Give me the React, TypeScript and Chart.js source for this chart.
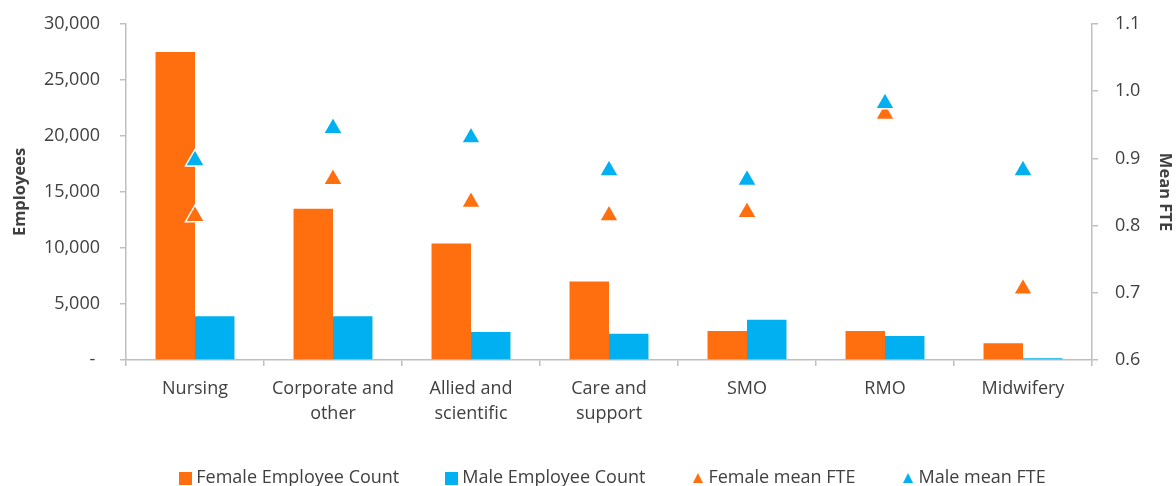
import React, { useEffect, useRef } from 'react';
import { Chart, registerables } from 'chart.js';

Chart.register(...registerables);

const categories: (string | string[])[] = [
  'Nursing',
  ['Corporate and', 'other'],
  ['Allied and', 'scientific'],
  ['Care and', 'support'],
  'SMO',
  'RMO',
  'Midwifery',
];

const femaleCount = [27500, 13500, 10400, 7000, 2600, 2600, 1500];
const maleCount = [3900, 3900, 2500, 2350, 3600, 2150, 150];
const femaleFTE = [0.814, 0.869, 0.835, 0.815, 0.82, 0.966, 0.706];
const maleFTE = [0.897, 0.945, 0.931, 0.882, 0.868, 0.982, 0.882];

const seriesNames = ['Female Employee Count', 'Male Employee Count', 'Female mean FTE', 'Male mean FTE'];

const ORANGE = '#FF6F10';
const BLUE = '#00B0F0';
const TEXT = '#404040';
const AXIS = '#BFBFBF';
const FONT = "'Open Sans', sans-serif";

function squareMarker(color: string, size: number): HTMLCanvasElement {
  const c = document.createElement('canvas');
  c.width = size;
  c.height = size;
  const ctx = c.getContext('2d')!;
  ctx.fillStyle = color;
  ctx.fillRect(0, 0, size, size);
  return c;
}

function triangleMarker(color: string, w: number, h: number): HTMLCanvasElement {
  const c = document.createElement('canvas');
  c.width = w;
  c.height = h;
  const ctx = c.getContext('2d')!;
  ctx.fillStyle = color;
  ctx.beginPath();
  ctx.moveTo(w / 2, 0);
  ctx.lineTo(w, h);
  ctx.lineTo(0, h);
  ctx.closePath();
  ctx.fill();
  return c;
}

// nudges the legend box so it sits where the reference legend sits
const legendShift = {
  id: 'legendShift',
  afterLayout(chart: any) {
    const l = chart.legend;
    if (l) {
      l.left += 6;
      l.right += 6;
      l.top -= 10;
      l.height += 10;
    }
  },
};

export default function App() {
  const ref = useRef<HTMLCanvasElement | null>(null);

  useEffect(() => {
    if (!ref.current) return;
    const markers = [
      squareMarker(ORANGE, 13),
      squareMarker(BLUE, 13),
      triangleMarker(ORANGE, 10, 10),
      triangleMarker(BLUE, 10, 10),
    ];
    const colors = [ORANGE, BLUE, ORANGE, BLUE];

    const chart = new Chart(ref.current, {
      type: 'bar',
      data: {
        labels: categories,
        datasets: [
          {
            type: 'bar',
            label: seriesNames[0],
            data: femaleCount,
            backgroundColor: ORANGE,
            yAxisID: 'y',
            order: 2,
            categoryPercentage: 0.572,
            barPercentage: 1,
          },
          {
            type: 'bar',
            label: seriesNames[1],
            data: maleCount,
            backgroundColor: BLUE,
            yAxisID: 'y',
            order: 3,
            categoryPercentage: 0.572,
            barPercentage: 1,
          },
          {
            type: 'line',
            label: seriesNames[2],
            data: femaleFTE,
            yAxisID: 'y1',
            showLine: false,
            pointStyle: 'triangle',
            pointRadius: 11,
            pointBackgroundColor: ORANGE,
            pointBorderColor: '#FFFFFF',
            pointBorderWidth: 1.5,
            backgroundColor: ORANGE,
            borderColor: ORANGE,
            order: 1,
          },
          {
            type: 'line',
            label: seriesNames[3],
            data: maleFTE,
            yAxisID: 'y1',
            showLine: false,
            pointStyle: 'triangle',
            pointRadius: 11,
            pointBackgroundColor: BLUE,
            pointBorderColor: '#FFFFFF',
            pointBorderWidth: 1.5,
            backgroundColor: BLUE,
            borderColor: BLUE,
            order: 0,
          },
        ],
      } as any,
      options: {
        responsive: false,
        animation: false,
        layout: { padding: { top: 24, left: 0, right: 0, bottom: 0 } },
        plugins: {
          tooltip: { enabled: false },
          legend: {
            position: 'bottom',
            fullSize: false,
            align: 'center',
            maxHeight: 58,
            labels: {
              usePointStyle: true,
              boxWidth: 3,
              boxHeight: 3,
              padding: 51,
              color: TEXT,
              font: { family: FONT, size: 18 },
              generateLabels: () =>
                seriesNames.map((name, i) => ({
                  text: name,
                  fillStyle: colors[i],
                  strokeStyle: colors[i],
                  lineWidth: 0,
                  pointStyle: markers[i] as any,
                  hidden: false,
                  datasetIndex: i,
                  fontColor: TEXT,
                })),
            },
          } as any,
        },
        scales: {
          x: {
            offset: true,
            grid: {
              display: true,
              offset: true,
              drawOnChartArea: false,
              drawTicks: true,
              tickLength: 6,
              color: AXIS,
              lineWidth: 1.5,
            },
            border: { display: true, color: AXIS, width: 1.5 },
            ticks: {
              color: TEXT,
              padding: 10,
              maxRotation: 0,
              autoSkip: false,
              font: { family: FONT, size: 18, lineHeight: 1.39 },
            },
            afterFit: (scale: any) => {
              scale.height = 68;
            },
          },
          y: {
            position: 'left',
            min: 0,
            max: 30000,
            grid: {
              display: true,
              drawOnChartArea: false,
              drawTicks: true,
              tickLength: 6,
              color: AXIS,
              lineWidth: 1.5,
            },
            border: { display: true, color: AXIS, width: 1.5 },
            ticks: {
              stepSize: 5000,
              color: TEXT,
              padding: 20,
              font: { family: FONT, size: 18 },
              callback: (v: any) => (Number(v) === 0 ? '- ' : Number(v).toLocaleString('en-US')),
            },
            title: {
              display: true,
              text: 'Employees',
              color: TEXT,
              font: { family: FONT, size: 16.5, weight: 'bold' },
              padding: { top: 10, bottom: 0 },
            },
            afterFit: (scale: any) => {
              scale.width = 126;
              scale.paddingTop = 10;
              scale.paddingBottom = 10;
            },
          },
          y1: {
            position: 'right',
            min: 0.6,
            max: 1.1,
            grid: {
              display: true,
              drawOnChartArea: false,
              drawTicks: true,
              tickLength: 6,
              color: AXIS,
              lineWidth: 1.5,
            },
            border: { display: true, color: AXIS, width: 1.5 },
            ticks: {
              stepSize: 0.1,
              color: TEXT,
              padding: 17,
              font: { family: FONT, size: 18 },
              callback: (v: any) => Number(v).toFixed(1),
            },
            title: {
              display: true,
              text: 'Mean FTE',
              color: TEXT,
              font: { family: FONT, size: 16.5, weight: 'bold' },
              padding: { top: 1, bottom: 0 },
            },
            afterFit: (scale: any) => {
              scale.width = 84;
              scale.paddingTop = 10;
              scale.paddingBottom = 10;
            },
          },
        },
      } as any,
      plugins: [legendShift],
    });
    return () => chart.destroy();
  }, []);

  return (
    <div style={{ position: 'absolute', left: 0, top: 0, width: 1176, height: 486, background: '#fff' }}>
      <canvas ref={ref} width={1176} height={486} style={{ display: 'block' }} />
    </div>
  );
}
